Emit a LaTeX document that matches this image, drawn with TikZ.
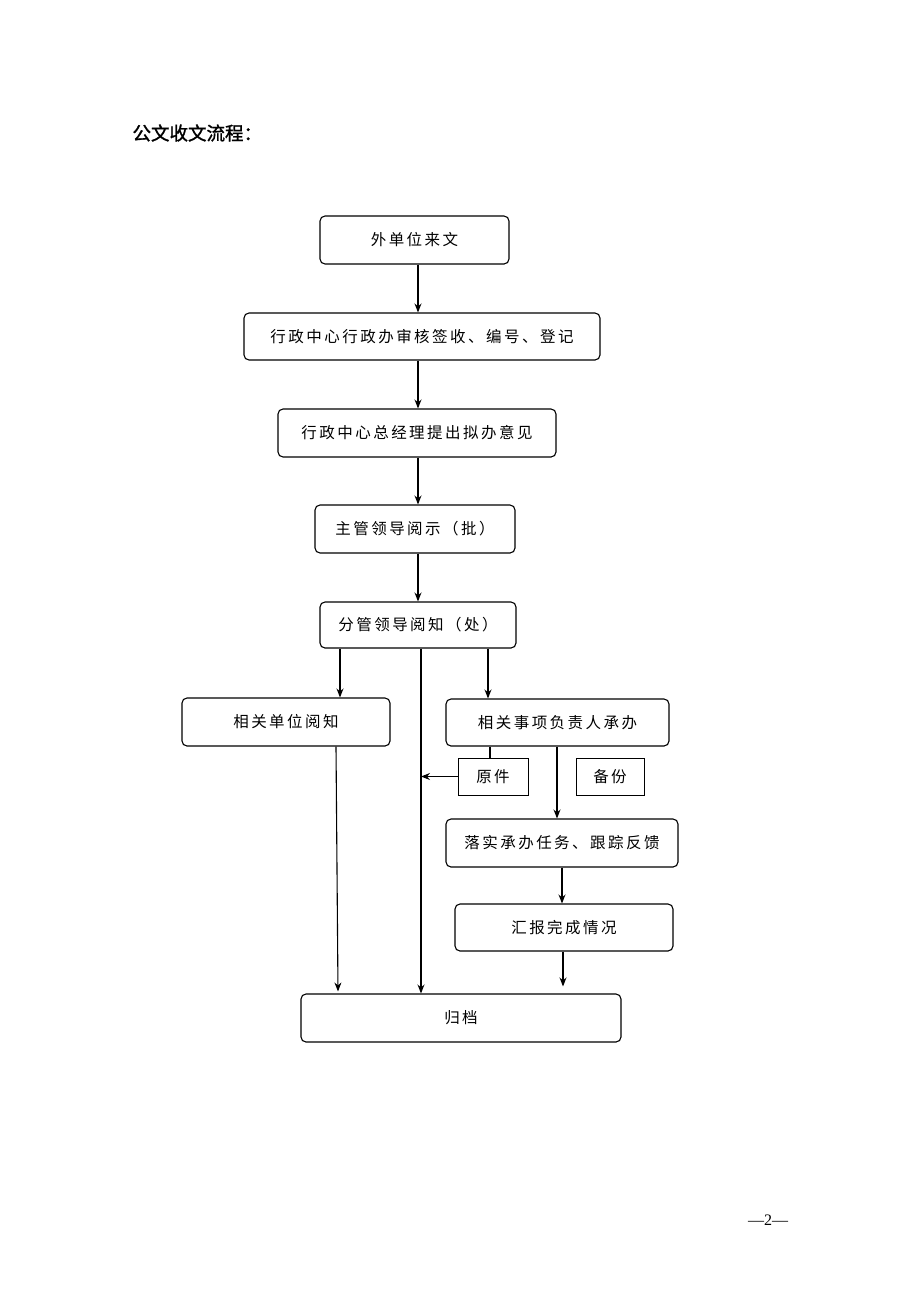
\documentclass[tikz,border=0pt]{standalone}
\usepackage{fontspec}
\usetikzlibrary{arrows.meta,calc}
\newfontfamily\cjk[LetterSpace=16]{Noto Sans CJK SC}
\newfontfamily\cjkb[FakeBold=1.5]{Noto Sans CJK SC}
\setmainfont{Liberation Serif}
\begin{document}
\begin{tikzpicture}[x=1pt,y=-1pt,
  box/.style={draw, line width=1.1pt, rounded corners=5pt, inner sep=0pt, font=\fontsize{15.5}{18}\cjk, anchor=center},
  sbox/.style={draw, line width=0.9pt, inner sep=0pt, font=\fontsize{15.5}{18}\cjk, anchor=center},
  arr/.style={line width=1.1pt, -{Stealth[length=9pt,width=7pt,inset=3pt]}},
  ln/.style={line width=1.1pt}]
\useasboundingbox (0,0) rectangle (920,1302);
\fill[white] (0,0) rectangle (920,1302);

\node[anchor=west, font=\fontsize{18.5}{21}\cjkb] (title) at (129,133) {公文收文流程：};

\node[box, minimum width=189pt, minimum height=48pt] (a) at (414.5,240) {外单位来文};
\node[box, minimum width=356pt, minimum height=47pt] (b) at (422,336.5) {行政中心行政办审核签收、编号、登记};
\node[box, minimum width=278pt, minimum height=48pt] (c) at (417,433) {行政中心总经理提出拟办意见};
\node[box, minimum width=200pt, minimum height=48pt] (d) at (415,529) {主管领导阅示（批）};
\node[box, minimum width=196pt, minimum height=46pt] (e) at (418,625) {分管领导阅知（处）};
\node[box, minimum width=208pt, minimum height=48pt] (f) at (286,722) {相关单位阅知};
\node[box, minimum width=223pt, minimum height=47pt] (g) at (557.5,722.5) {相关事项负责人承办};
\node[sbox, minimum width=70pt, minimum height=37pt] (h) at (493,776.5) {原件};
\node[sbox, minimum width=68pt, minimum height=37pt] (i) at (610,776.5) {备份};
\node[box, minimum width=232pt, minimum height=48pt] (j) at (562,843) {落实承办任务、跟踪反馈};
\node[box, minimum width=218pt, minimum height=47pt] (k) at (564,927.5) {汇报完成情况};
\node[box, minimum width=320pt, minimum height=48pt] (l) at (461,1018) {归档};

\node[font=\fontsize{16}{18}\selectfont] (pg) at (768,1220) {—2—};

\coordinate (m) at (418,0);
\coordinate (mf) at (340,0);
\coordinate (mc) at (421,0);
\coordinate (mg) at (488,0);
\coordinate (mh) at (490,0);
\coordinate (mj) at (557,0);
\coordinate (mk) at (562,0);
\coordinate (ml) at (563,0);
\coordinate (fb) at (336,0);
\coordinate (lb) at (338,0);

\draw[arr] (a.south -| m) -- (b.north -| m);
\draw[arr] (b.south -| m) -- (c.north -| m);
\draw[arr] (c.south -| m) -- (d.north -| m);
\draw[arr] (d.south -| m) -- (e.north -| m);
\draw[arr] (e.south -| mf) -- (f.north -| mf);
\draw[arr] (e.south -| mg) -- (g.north -| mg);
\draw[arr] (e.south -| mc) -- (l.north -| mc);
\draw[arr] (f.south -| fb) -- ($(l.north -| lb)+(0,-2)$);
\draw[ln] (g.south -| mh) -- (h.north -| mh);
\draw[arr] (h.west) -- (h.west -| mc);
\draw[arr] (g.south -| mj) -- (j.north -| mj);
\draw[arr] (j.south -| mk) -- (k.north -| mk);
\draw[arr] (k.south -| ml) -- ($(l.north -| ml)+(0,-7)$);
\end{tikzpicture}
\end{document}
